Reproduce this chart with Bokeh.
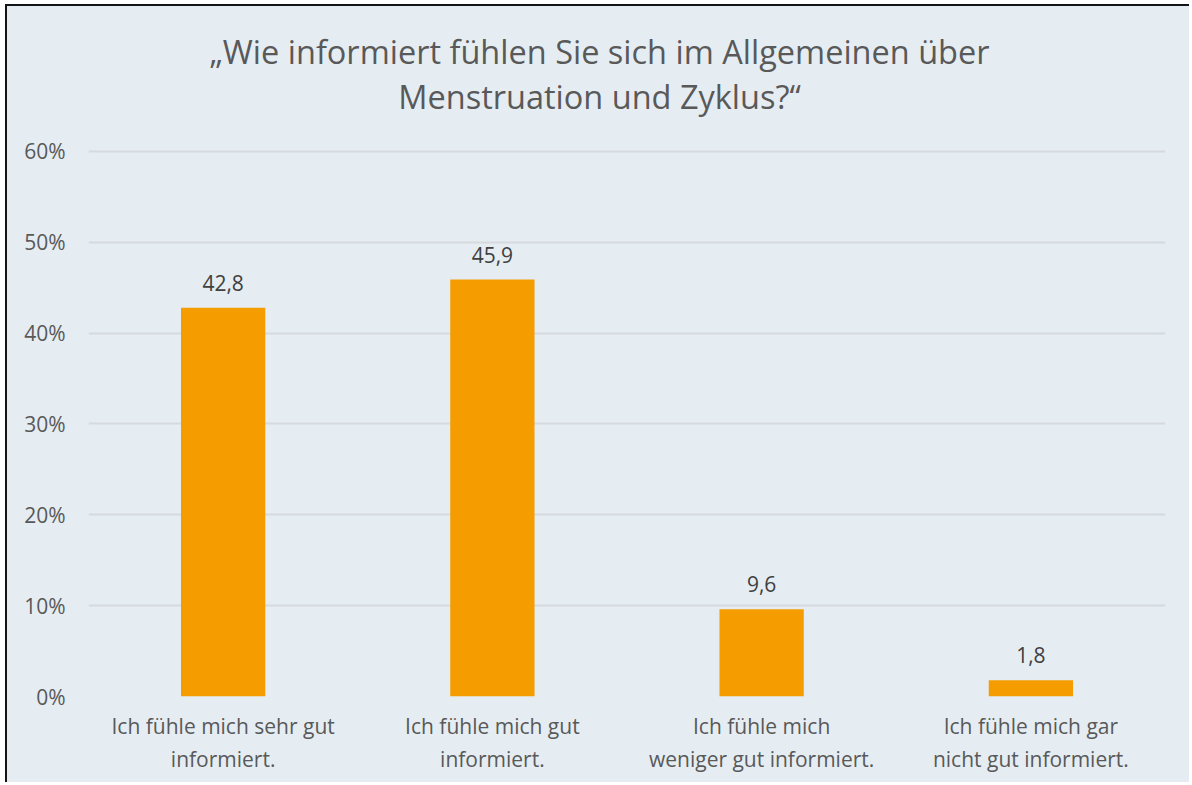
from bokeh.plotting import figure
from bokeh.models import ColumnDataSource, FixedTicker, PrintfTickFormatter, Label
from bokeh.core.properties import value
from bokeh.embed import file_html
from bokeh.resources import INLINE

categories = ["Ich fühle mich sehr gut\ninformiert.",
              "Ich fühle mich gut\ninformiert.",
              "Ich fühle mich\nweniger gut informiert.",
              "Ich fühle mich gar\nnicht gut informiert."]
values = [42.8, 45.9, 9.6, 1.8]
labels = ["42,8", "45,9", "9,6", "1,8"]
y_ticks = [0, 10, 20, 30, 40, 50, 60]
title_lines = ["„Wie informiert fühlen Sie sich im Allgemeinen über", "Menstruation und Zyklus?“"]

BG = "#E5EDF3"
FONT = "Open Sans"
GRAY = "#595959"

src = ColumnDataSource(dict(cat=categories, val=values, lab=labels))

p = figure(x_range=categories, y_range=(0, 75.96), width=1184, height=778,
           output_backend="svg", toolbar_location=None,
           min_border_left=81, min_border_right=26, min_border_bottom=88, min_border_top=0)
p.background_fill_color = None
p.border_fill_color = None
p.outline_line_color = None
p.styles = {"margin-left": "5px", "margin-top": "4px", "background-color": BG,
            "border-left": "2px solid #141414", "border-top": "2px solid #141414"}

# two-line title, centred over the chart
for txt, ty in zip(title_lines, [71.0, 66.1]):
    p.add_layout(Label(x=1.898, y=ty, text=txt, text_align="center",
                       text_baseline="alphabetic", text_font=FONT,
                       text_font_size="32.5px", text_color=GRAY))

p.vbar(x="cat", top="val", width=0.313, source=src, fill_color="#F59C00", line_color=None)
p.text(x="cat", y="val", text="lab", source=src, y_offset=-25,
       text_align="center", text_baseline="alphabetic", text_font=value(FONT),
       text_font_size="21px", text_color="#404040")

p.yaxis.ticker = FixedTicker(ticks=y_ticks)
p.yaxis.formatter = PrintfTickFormatter(format="%d%%")
p.ygrid.grid_line_color = "#D6DADD"
p.ygrid.grid_line_width = 2
p.xgrid.grid_line_color = None
for ax in (p.xaxis, p.yaxis):
    ax.axis_line_color = None
    ax.major_tick_line_color = None
    ax.minor_tick_line_color = None
    ax.major_tick_out = 0
    ax.major_tick_in = 0
    ax.minor_tick_out = 0
    ax.major_label_text_font = FONT
    ax.major_label_text_font_size = "21px"
    ax.major_label_text_color = GRAY
p.yaxis.major_label_standoff = 23
p.xaxis.major_label_standoff = 15
p.xaxis.major_label_text_line_height = 1.18
p.x_range.range_padding = 0

open("out.html", "w").write(file_html(p, INLINE))
